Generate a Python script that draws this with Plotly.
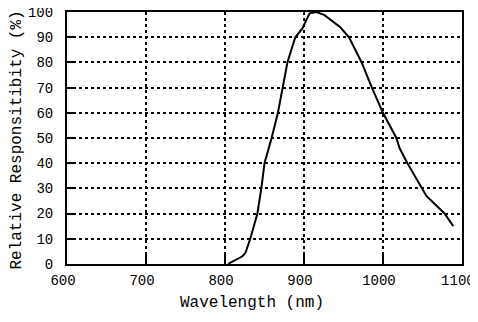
import plotly.graph_objects as go

wavelength = [804, 822, 826, 832, 841, 846, 850, 859, 867, 873, 879, 889, 898, 907,
              916, 926, 946, 957, 973, 986, 1000, 1017, 1021, 1031, 1049, 1055, 1078, 1089]
responsivity = [0, 3, 4.5, 10, 20, 30, 40, 50, 60, 70, 80, 90, 93.5, 99.5,
                100, 98.8, 94, 90, 80, 70, 60, 50, 46, 40, 30, 27, 20, 15]
x_ticks = [600, 700, 800, 900, 1000, 1100]
y_ticks = [0, 10, 20, 30, 40, 50, 60, 70, 80, 90, 100]

fig = go.Figure()
fig.add_trace(go.Scatter(x=wavelength, y=responsivity, mode="lines",
                         line=dict(color="black", width=2), showlegend=False))

font = "Liberation Mono"
axis_common = dict(
    showline=True, linecolor="black", linewidth=2, mirror=True,
    showgrid=True, gridcolor="black", griddash="dot", gridwidth=1.5,
    ticks="inside", ticklen=9, tickwidth=2, tickcolor="black",
    zeroline=False, automargin=False, ticklabeloverflow="allow",
)
fig.update_xaxes(range=[599.9, 1100.1], tickvals=x_ticks, ticklabelstandoff=2,
                 ticklabelshift=-4,
                 tickfont=dict(family=font, size=14, color="black"), **axis_common)
fig.update_yaxes(range=[-0.05, 100.05], tickvals=y_ticks, ticklabelstandoff=9,
                 tickfont=dict(family=font, size=14, color="black"), **axis_common)
fig.add_annotation(text="Wavelength (nm)", xref="paper", yref="paper",
                   x=0.468, y=-0.155, yanchor="middle", xanchor="center",
                   showarrow=False, font=dict(family=font, size=16, color="black"))
fig.add_annotation(text="Relative Responsitibity (%)", xref="paper", yref="paper",
                   x=-0.129, y=0.49, xanchor="center", yanchor="middle", textangle=-90,
                   showarrow=False, font=dict(family=font, size=16, color="black"))
fig.update_layout(width=478, height=322, margin=dict(l=59, r=24, t=4, b=66),
                  plot_bgcolor="white", paper_bgcolor="white")
fig.write_html("out.html")
